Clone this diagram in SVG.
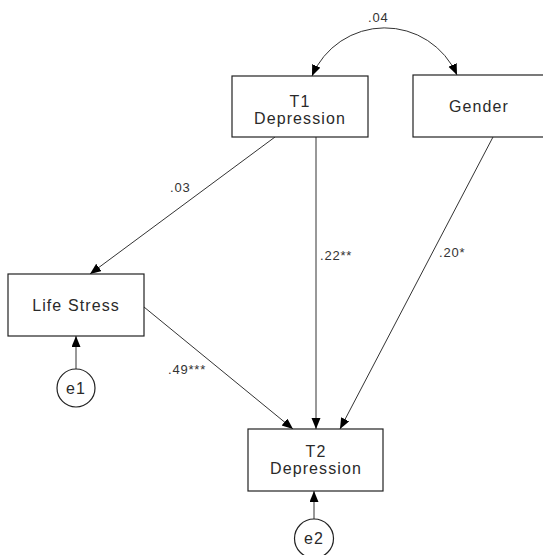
<svg xmlns="http://www.w3.org/2000/svg" width="543" height="555" viewBox="0 0 543 555">
<style>
.box{fill:#fff;stroke:#222;stroke-width:1.2}
.t{font-family:"Liberation Sans",Arial,sans-serif;font-size:16px;letter-spacing:1.1px;fill:#2a2a2a;text-anchor:middle}
.lbl{font-family:"Liberation Sans",Arial,sans-serif;font-size:13px;letter-spacing:0.8px;fill:#333}
.c{fill:none;stroke:#333;stroke-width:1}
</style>
<defs>
<marker id="ah" markerUnits="userSpaceOnUse" markerWidth="12" markerHeight="10" refX="11" refY="4.5" orient="auto-start-reverse">
<path d="M0,0 L11,4.5 L0,9 z" fill="#000"/>
</marker>
</defs>
<rect width="543" height="555" fill="#fff"/>
<g id="connectors">
<path class="c" d="M312,76 A79,79 0 0 1 457,75" marker-start="url(#ah)" marker-end="url(#ah)"/>
<line class="c" x1="275" y1="137" x2="90" y2="274" marker-end="url(#ah)"/>
<line class="c" x1="316" y1="137" x2="316" y2="429" marker-end="url(#ah)"/>
<line class="c" x1="493" y1="137" x2="340" y2="429" marker-end="url(#ah)"/>
<line class="c" x1="144" y1="307" x2="293" y2="429" marker-end="url(#ah)"/>
<line class="c" x1="76" y1="369" x2="76" y2="336" marker-end="url(#ah)"/>
<line class="c" x1="314" y1="519" x2="314" y2="491" marker-end="url(#ah)"/>
<text class="lbl" x="368" y="22">.04</text>
<text class="lbl" x="170" y="192">.03</text>
<text class="lbl" x="320" y="260">.22**</text>
<text class="lbl" x="439" y="257">.20*</text>
<text class="lbl" x="168" y="374">.49***</text>
</g>
<g id="t1">
<rect class="box" x="232" y="76" width="136" height="61"/>
<text class="t" x="300" y="107">T1</text>
<text class="t" x="300" y="124">Depression</text>
</g>
<g id="gender">
<rect class="box" x="413" y="75" width="135" height="62"/>
<text class="t" x="479" y="112">Gender</text>
</g>
<g id="lifestress">
<rect class="box" x="8" y="274" width="136" height="62"/>
<text class="t" x="76" y="311">Life Stress</text>
</g>
<g id="t2">
<rect class="box" x="248" y="429" width="135" height="62"/>
<text class="t" x="316" y="457">T2</text>
<text class="t" x="316" y="474">Depression</text>
</g>
<g id="e1">
<circle class="box" cx="76" cy="388" r="19"/>
<text class="t" x="76" y="394">e1</text>
</g>
<g id="e2">
<circle class="box" cx="314" cy="538.5" r="19.5"/>
<text class="t" x="314" y="544">e2</text>
</g>
</svg>
